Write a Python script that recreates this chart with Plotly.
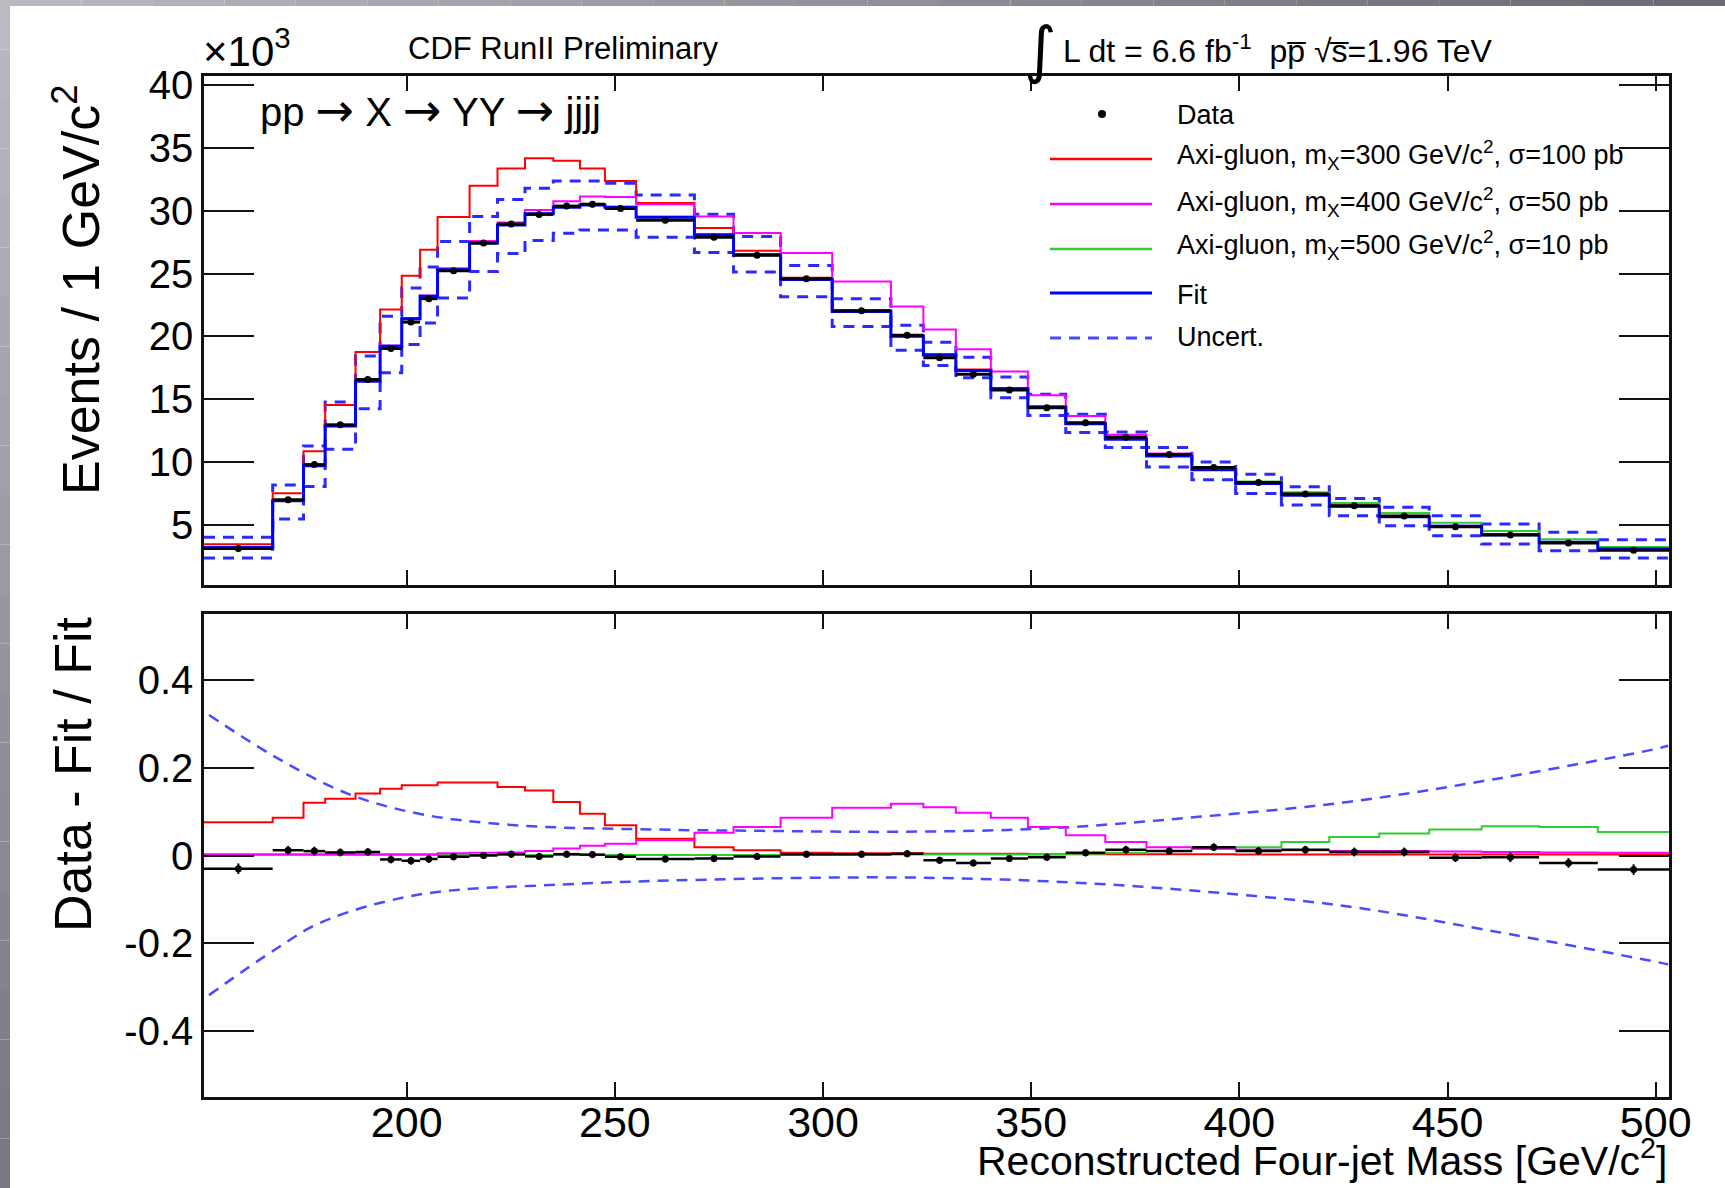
import plotly.graph_objects as go

# ---------------- data ----------------
edges = [151.3, 167.8, 175.2, 180.4, 187.7, 193.6, 198.8, 203.2, 207.4, 215.1,
         221.8, 228.4, 235.2, 241.6, 247.6, 255.1, 269.1, 278.5, 289.8, 302.2,
         316.3, 324.1, 331.9, 340.3, 349.2, 358.3, 367.8, 377.7, 388.6, 399.1,
         410.1, 421.6, 433.6, 445.6, 458.2, 472.0, 486.1, 503.3]

# fit, events per GeV (x10^3)
fit_k = [3.24, 6.94, 9.72, 12.89, 16.45, 19.22, 21.40, 23.19, 25.30, 27.42,
         28.85, 29.76, 30.27, 30.45, 30.27, 29.48, 28.08, 26.50, 24.52, 21.98,
         20.02, 18.52, 17.30, 15.85, 14.39, 13.07, 11.83, 10.51, 9.40, 8.32,
         7.39, 6.50, 5.68, 4.91, 4.25, 3.64, 3.11]

unc_up_k = [4.04, 8.19, 11.30, 14.79, 18.44, 21.60, 23.85, 25.52, 27.55, 29.53,
            30.88, 31.78, 32.36, 32.36, 32.17, 31.25, 29.72, 27.95, 25.65, 23.00,
            20.89, 19.54, 18.35, 16.77, 15.40, 13.81, 12.41, 11.17, 10.03, 9.06,
            8.05, 7.13, 6.42, 5.75, 5.09, 4.44, 3.85]

unc_dn_k = [2.40, 5.49, 8.08, 11.04, 14.26, 17.11, 19.36, 21.08, 23.06, 25.17,
            26.60, 27.63, 28.21, 28.47, 28.47, 27.89, 26.68, 25.12, 23.16, 20.80,
            18.91, 17.70, 16.72, 15.13, 13.73, 12.36, 11.17, 9.63, 8.61, 7.52,
            6.60, 5.75, 4.96, 4.17, 3.50, 2.98, 2.40]

# (Data - Fit)/Fit
ratio_data = [-0.030, 0.012, 0.010, 0.007, 0.008, -0.009, -0.012, -0.008, -0.003, 0.000,
              0.003, -0.002, 0.003, 0.002, -0.003, -0.008, -0.007, -0.002, 0.003, 0.003,
              0.004, -0.011, -0.017, -0.007, -0.004, 0.006, 0.013, 0.010, 0.019, 0.010,
              0.013, 0.008, 0.008, -0.005, -0.004, -0.017, -0.032]
ratio_err = [0.012, 0.010, 0.010, 0.009, 0.009, 0.009, 0.009, 0.009, 0.008, 0.008,
             0.008, 0.008, 0.008, 0.008, 0.008, 0.008, 0.008, 0.008, 0.008, 0.008,
             0.008, 0.008, 0.008, 0.008, 0.008, 0.008, 0.009, 0.009, 0.009, 0.009,
             0.009, 0.010, 0.010, 0.010, 0.011, 0.011, 0.012]

# signal / fit ratios
red_ratio = [0.076, 0.086, 0.120, 0.129, 0.141, 0.152, 0.160, 0.160, 0.166, 0.166,
             0.156, 0.148, 0.122, 0.095, 0.069, 0.038, 0.019, 0.012, 0.006, 0.005,
             0.005, 0.004, 0.004, 0.004, 0.003, 0.003, 0.003, 0.003, 0.003, 0.002,
             0.002, 0.002, 0.002, 0.002, 0.002, 0.002, 0.002]
pink_ratio = [0.003, 0.003, 0.003, 0.003, 0.003, 0.003, 0.003, 0.003, 0.005, 0.006,
              0.007, 0.010, 0.016, 0.022, 0.027, 0.035, 0.052, 0.065, 0.086, 0.109,
              0.118, 0.110, 0.0975, 0.086, 0.065, 0.046, 0.031, 0.019, 0.016, 0.013,
              0.012, 0.010, 0.010, 0.009, 0.008, 0.007, 0.006]
green_ratio = [0.001, 0.001, 0.001, 0.001, 0.001, 0.001, 0.001, 0.001, 0.001, 0.001,
               0.001, 0.001, 0.001, 0.001, 0.001, 0.001, 0.001, 0.001, 0.001, 0.001,
               0.002, 0.002, 0.002, 0.002, 0.002, 0.004, 0.006, 0.010, 0.015, 0.019,
               0.031, 0.042, 0.050, 0.059, 0.0665, 0.065, 0.0535]

# smooth uncertainty band in the ratio panel
unc_ratio_up_x = [152.5, 168.5, 185.8, 203.0, 226.0, 260.5, 287.0, 318.0, 354.4, 390.2, 426.1, 461.9, 500.2, 503.0]
unc_ratio_up_y = [0.320, 0.224, 0.141, 0.095, 0.069, 0.059, 0.056, 0.054, 0.062, 0.088, 0.122, 0.175, 0.243, 0.250]
unc_ratio_dn_x = [152.5, 168.4, 180.0, 203.0, 237.5, 271.9, 317.9, 354.4, 390.2, 426.1, 459.0, 500.0, 503.0]
unc_ratio_dn_y = [-0.318, -0.214, -0.150, -0.089, -0.066, -0.055, -0.050, -0.059, -0.081, -0.116, -0.169, -0.242, -0.248]

x_ticks = [200, 250, 300, 350, 400, 450, 500]
y_ticks_top = [5, 10, 15, 20, 25, 30, 35, 40]
y_ticks_ratio = [-0.4, -0.2, 0, 0.2, 0.4]
y_ticktext_ratio = ["-0.4", "-0.2", "0", "0.2", "0.4"]

legend_labels = ["Data",
                 "Axi-gluon, m<sub>X</sub>=300 GeV/c<sup>2</sup>, σ=100 pb",
                 "Axi-gluon, m<sub>X</sub>=400 GeV/c<sup>2</sup>, σ=50 pb",
                 "Axi-gluon, m<sub>X</sub>=500 GeV/c<sup>2</sup>, σ=10 pb",
                 "Fit",
                 "Uncert."]

# ---------------- derived ----------------
n = len(fit_k)
centers = [(edges[i] + edges[i + 1]) / 2 for i in range(n)]
halfw = [(edges[i + 1] - edges[i]) / 2 for i in range(n)]
data_k = [fit_k[i] * (1 + ratio_data[i]) for i in range(n)]
data_err_k = [fit_k[i] * ratio_err[i] for i in range(n)]
red_k = [fit_k[i] * (1 + red_ratio[i]) for i in range(n)]
pink_k = [fit_k[i] * (1 + pink_ratio[i]) for i in range(n)]
green_k = [fit_k[i] * (1 + green_ratio[i]) for i in range(n)]


def step(vals):
    return list(vals) + [vals[-1]]


# ---------------- layout geometry ----------------
W, H = 1725, 1188
ML, MR, MT, MB = 204, 56, 76, 91
PW = W - ML - MR
PH = H - MT - MB


def px(X):
    return (X - ML) / PW


def py(Y):
    return (H - MB - Y) / PH


FONT = "Liberation Sans, Arial, Helvetica, sans-serif"
BLUE = "#0000ff"
DASHBLUE = "#2a2aff"
RED = "#ff0000"
PINK = "#ff00ff"
GREEN = "#33cc33"
DASH = "11px,8px"

fig = go.Figure()

# ---------- top panel ----------
fig.add_trace(go.Scatter(x=edges, y=step(unc_up_k), mode="lines", line_shape="hv",
                         line=dict(color=DASHBLUE, width=3, dash=DASH), xaxis="x", yaxis="y",
                         name="Uncert.", showlegend=False, hoverinfo="skip"))
fig.add_trace(go.Scatter(x=edges, y=step(unc_dn_k), mode="lines", line_shape="hv",
                         line=dict(color=DASHBLUE, width=3, dash=DASH), xaxis="x", yaxis="y",
                         showlegend=False, hoverinfo="skip"))
fig.add_trace(go.Scatter(x=edges, y=step(green_k), mode="lines", line_shape="hv",
                         line=dict(color=GREEN, width=2), xaxis="x", yaxis="y", showlegend=False))
fig.add_trace(go.Scatter(x=edges, y=step(red_k), mode="lines", line_shape="hv",
                         line=dict(color=RED, width=2), xaxis="x", yaxis="y", showlegend=False))
fig.add_trace(go.Scatter(x=edges, y=step(pink_k), mode="lines", line_shape="hv",
                         line=dict(color=PINK, width=2), xaxis="x", yaxis="y", showlegend=False))
fig.add_trace(go.Scatter(x=edges, y=step(fit_k), mode="lines", line_shape="hv",
                         line=dict(color=BLUE, width=3), xaxis="x", yaxis="y", showlegend=False))
fig.add_trace(go.Scatter(x=centers, y=data_k, mode="markers",
                         marker=dict(color="black", size=7),
                         error_x=dict(type="data", array=halfw, color="black", thickness=3, width=0),
                         error_y=dict(type="data", array=data_err_k, color="black", thickness=2, width=0),
                         xaxis="x", yaxis="y", showlegend=False))

# ---------- ratio panel ----------
fig.add_trace(go.Scatter(x=unc_ratio_up_x, y=unc_ratio_up_y, mode="lines", line_shape="spline",
                         line=dict(color="#4a4aff", width=2.5, dash=DASH), xaxis="x2", yaxis="y2",
                         showlegend=False, hoverinfo="skip"))
fig.add_trace(go.Scatter(x=unc_ratio_dn_x, y=unc_ratio_dn_y, mode="lines", line_shape="spline",
                         line=dict(color="#4a4aff", width=2.5, dash=DASH), xaxis="x2", yaxis="y2",
                         showlegend=False, hoverinfo="skip"))
fig.add_trace(go.Scatter(x=edges, y=step(red_ratio), mode="lines", line_shape="hv",
                         line=dict(color=RED, width=2), xaxis="x2", yaxis="y2", showlegend=False))
fig.add_trace(go.Scatter(x=edges, y=step(green_ratio), mode="lines", line_shape="hv",
                         line=dict(color=GREEN, width=2), xaxis="x2", yaxis="y2", showlegend=False))
fig.add_trace(go.Scatter(x=edges, y=step(pink_ratio), mode="lines", line_shape="hv",
                         line=dict(color=PINK, width=2), xaxis="x2", yaxis="y2", showlegend=False))
fig.add_trace(go.Scatter(x=centers, y=ratio_data, mode="markers",
                         marker=dict(color="black", size=7),
                         error_x=dict(type="data", array=halfw, color="black", thickness=2.5, width=0),
                         error_y=dict(type="data", array=ratio_err, color="black", thickness=2, width=0),
                         xaxis="x2", yaxis="y2", showlegend=False))

axc = dict(showline=True, linecolor="#111111", linewidth=2.5, mirror="ticks",
           ticks="inside", tickcolor="#111111", tickwidth=2, showgrid=False, zeroline=False,
           tickfont=dict(family=FONT, size=40, color="black"))

fig.update_layout(
    width=W, height=H,
    margin=dict(l=ML, r=MR, t=MT, b=MB, pad=0),
    paper_bgcolor="white", plot_bgcolor="white",
    showlegend=False,
    xaxis=dict(axc, domain=[0, 1], range=[151.3, 503.2], tickvals=x_ticks, ticklen=15,
               showticklabels=False, anchor="y"),
    xaxis2=dict(axc, domain=[0, 1], range=[151.3, 503.2], tickvals=x_ticks, ticklen=15,
                showticklabels=True, anchor="y2", matches="x",
                tickfont=dict(family=FONT, size=43, color="black"), ticklabelstandoff=-14),
    yaxis=dict(axc, domain=[py(585), 1.0], range=[0.25, 40.7], tickvals=y_ticks_top,
               ticklen=50, anchor="x"),
    yaxis2=dict(axc, domain=[0, py(614)], range=[-0.55, 0.55], tickvals=y_ticks_ratio,
                ticktext=y_ticktext_ratio, ticklen=50, anchor="x2"),
)

ann = []


def A(text, X, Y, size, xanchor="left", yanchor="middle", angle=0, family=FONT):
    ann.append(dict(text=text, x=px(X), y=py(Y), xref="paper", yref="paper",
                    xanchor=xanchor, yanchor=yanchor, showarrow=False, textangle=angle,
                    font=dict(family=family, size=size, color="black")))


ARW = "<span style='font-family:DejaVu Sans;font-size:46px'>→</span>"
A("×10<sup>3</sup>", 201, 48, 42)
A("CDF RunII Preliminary", 406, 49, 31)
A("∫", 1040, 50, 62, xanchor="center", family="DejaVu Sans, sans-serif")
A("L dt = 6.6 fb<sup>-1</sup>  pp\u0305 √s\u0305=1.96 TeV", 1061, 49, 32)
A("pp " + ARW + " X " + ARW + " YY " + ARW + " jjjj", 258, 110, 40)
A("Events / 1 GeV/c<sup>2</sup>", 77, 290, 52, xanchor="center", angle=-90)
A("Data - Fit / Fit", 73, 775, 52, xanchor="center", angle=-90)
A("Reconstructed Four-jet Mass [GeV/c<sup>2</sup>]", 1669, 1158, 41, xanchor="right")

# manual legend
leg_text_y = [115, 155.5, 201.5, 245, 295, 337]
for lab, ty in zip(legend_labels, leg_text_y):
    A(lab, 1175, ty, 27)

shapes = []
leg_lines = [(159, RED, "solid", 2.5), (204, PINK, "solid", 2.5), (249, GREEN, "solid", 2.5),
             (293, BLUE, "solid", 3), (338, "#4a4aff", DASH, 3)]
for ly, col, dsh, lw in leg_lines:
    shapes.append(dict(type="line", xref="paper", yref="paper", x0=px(1050), x1=px(1152),
                       y0=py(ly), y1=py(ly), line=dict(color=col, width=lw, dash=dsh)))
shapes.append(dict(type="circle", xref="paper", yref="paper", x0=px(1098), x1=px(1106),
                   y0=py(118), y1=py(110), fillcolor="black", line=dict(color="black", width=0)))

# gray slide border strips
nseg = 24
for i in range(nseg):
    t = i / (nseg - 1)
    c = [int(186 - 66 * t), int(186 - 66 * t), int(192 - 66 * t)]
    y0 = H * i / nseg
    y1 = H * (i + 1) / nseg
    shapes.append(dict(type="rect", xref="paper", yref="paper", x0=px(0), x1=px(10),
                       y0=py(y1), y1=py(y0), fillcolor="rgb(%d,%d,%d)" % tuple(c),
                       line=dict(width=0), layer="above"))
    x0 = 10 + (W - 10) * i / nseg
    x1 = 10 + (W - 10) * (i + 1) / nseg
    c2 = [int(184 - 78 * t), int(184 - 78 * t), int(190 - 78 * t)]
    shapes.append(dict(type="rect", xref="paper", yref="paper", x0=px(x0), x1=px(x1),
                       y0=py(6), y1=py(0), fillcolor="rgb(%d,%d,%d)" % tuple(c2),
                       line=dict(width=0), layer="above"))

fig.update_layout(annotations=ann, shapes=shapes)
fig.write_html("out.html", config={"displayModeBar": False},
               post_script="document.body.style.margin='0px';document.body.style.overflow='hidden';")
